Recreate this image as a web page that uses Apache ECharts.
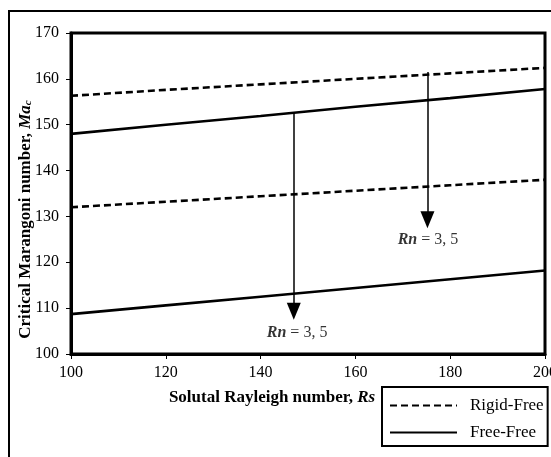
<!DOCTYPE html>
<html>
<head>
<meta charset="utf-8">
<script src="https://cdn.jsdelivr.net/npm/echarts@6/dist/echarts.min.js"></script>
<style>
  html, body { margin: 0; padding: 0; background: #fff; }
  #chart { width: 551px; height: 457px; }
</style>
</head>
<body>
<div id="chart"></div>
<script>
// Solutal Rayleigh number values along the x axis
const rsValues = [100, 120, 140, 160, 180, 200];

// Critical Marangoni number curves
const rigidFreeUpper = [156.3, 157.6, 158.8, 160.0, 161.2, 162.4];
const freeFreeUpper  = [148.0, 150.0, 151.9, 153.9, 155.8, 157.8];
const rigidFreeLower = [132.0, 133.2, 134.4, 135.6, 136.8, 138.0];
const freeFreeLower  = [108.7, 110.6, 112.5, 114.4, 116.3, 118.2];

// Arrow shafts showing the change from Rn = 3 to Rn = 5: [Rs, Ma start, Ma at arrowhead]
const arrowFreeFree  = [147, 152.6, 109.3];
const arrowRigidFree = [175.2, 161.5, 129.3];

// Annotation anchors [Rs, Ma]
const noteFreeFree  = [147.7, 104.6];
const noteRigidFree = [175.3, 124.9];

const serif = 'Liberation Serif';

function pairs(ys) {
  return rsValues.map((x, i) => [x, ys[i]]);
}

const dashed = { color: '#000', width: 2.6, type: [7, 4] };
const solid  = { color: '#000', width: 2.6, type: 'solid' };

function arrowLine(a) {
  return [{ coord: [a[0], a[1]] }, { coord: [a[0], a[2]] }];
}

const chart = echarts.init(document.getElementById('chart'));
chart.setOption({
  animation: false,
  backgroundColor: '#fff',
  grid: {
    left: 71, top: 33, right: 6, bottom: 103,
    containLabel: false, outerBoundsMode: 'none',
    show: true, borderColor: '#000', borderWidth: 3
  },
  xAxis: {
    type: 'value', min: 100, max: 200, interval: 20,
    splitLine: { show: false },
    axisLine: { lineStyle: { color: '#000', width: 3 } },
    axisTick: { show: true, length: 5, lineStyle: { color: '#000', width: 1 } },
    axisLabel: { color: '#000', fontFamily: serif, fontSize: 16, margin: 11, showMaxLabel: true, hideOverlap: false },
    name: '{b|Solutal Rayleigh number, }{bi|Rs}',
    nameLocation: 'middle', nameGap: 35, nameMoveOverlap: false,
    nameTextStyle: {
      padding: [0, 72, 0, 0],
      rich: {
        b: { fontFamily: serif, fontSize: 17, fontWeight: 'bold', color: '#000' },
        bi: { fontFamily: serif, fontSize: 17, fontWeight: 'bold', fontStyle: 'italic', color: '#000' }
      }
    }
  },
  yAxis: {
    type: 'value', min: 100, max: 170, interval: 10,
    splitLine: { show: false },
    axisLine: { show: true, lineStyle: { color: '#000', width: 3 } },
    axisTick: { show: true, length: 5, lineStyle: { color: '#000', width: 1 } },
    axisLabel: { color: '#000', fontFamily: serif, fontSize: 16, margin: 12 },
    name: '{b|Critical Marangoni number, }{bi|Ma}{sub|c}',
    nameLocation: 'middle', nameGap: 37, nameRotate: 90, nameMoveOverlap: false,
    nameTextStyle: {
      padding: [0, 52, 0, 0],
      rich: {
        b: { fontFamily: serif, fontSize: 17, fontWeight: 'bold', color: '#000' },
        bi: { fontFamily: serif, fontSize: 17, fontWeight: 'bold', fontStyle: 'italic', color: '#000' },
        sub: { fontFamily: serif, fontSize: 11, fontWeight: 'bold', fontStyle: 'italic', color: '#000', verticalAlign: 'bottom', padding: [6, 0, 0, 0] }
      }
    }
  },
  legend: {
    orient: 'vertical',
    left: 382, top: 387,
    width: 168,
    data: ['Rigid-Free', 'Free-Free'],
    borderColor: '#000', borderWidth: 2,
    padding: [10, 4, 5, 7],
    itemWidth: 67, itemHeight: 14, itemGap: 10,
    // line-only keys: the marker dot is made fully transparent
    itemStyle: { color: 'rgba(0,0,0,0)', borderWidth: 0, opacity: 0 },
    textStyle: { fontFamily: serif, fontSize: 17, color: '#000', padding: [0, 0, 0, 8] },
    selectedMode: false
  },
  graphic: [{
    type: 'rect',
    shape: { x: 9, y: 11, width: 600, height: 500 },
    style: { fill: 'none', stroke: '#000', lineWidth: 2 },
    silent: true, z: 100
  }],
  series: [
    { name: 'Rigid-Free', type: 'line', data: pairs(rigidFreeUpper), symbol: 'none', lineStyle: dashed, itemStyle: { color: '#000' } },
    { name: 'Free-Free', type: 'line', data: pairs(freeFreeUpper), symbol: 'none', lineStyle: solid, itemStyle: { color: '#000' } },
    { name: 'Rigid-Free', type: 'line', data: pairs(rigidFreeLower), symbol: 'none', lineStyle: dashed, itemStyle: { color: '#000' } },
    { name: 'Free-Free', type: 'line', data: pairs(freeFreeLower), symbol: 'none', lineStyle: solid, itemStyle: { color: '#000' } },
    {
      name: 'arrows', type: 'line', data: [], symbol: 'none',
      markLine: {
        silent: true, animation: false,
        symbol: ['none', 'triangle'], symbolSize: [14, 17],
        label: { show: false },
        lineStyle: { color: '#000', width: 1.5, type: 'solid' },
        itemStyle: { color: '#000' },
        data: [arrowLine(arrowFreeFree), arrowLine(arrowRigidFree)]
      }
    },
    {
      name: 'notes', type: 'scatter', symbolSize: 0, silent: true,
      data: [noteFreeFree, noteRigidFree],
      label: {
        show: true, position: 'inside',
        formatter: '{bi|Rn} = 3, 5',
        fontFamily: serif, fontSize: 16, color: '#000',
        rich: {
          bi: { fontFamily: serif, fontSize: 16, fontWeight: 'bold', fontStyle: 'italic', color: '#000' }
        }
      }
    }
  ]
});
</script>
</body>
</html>
